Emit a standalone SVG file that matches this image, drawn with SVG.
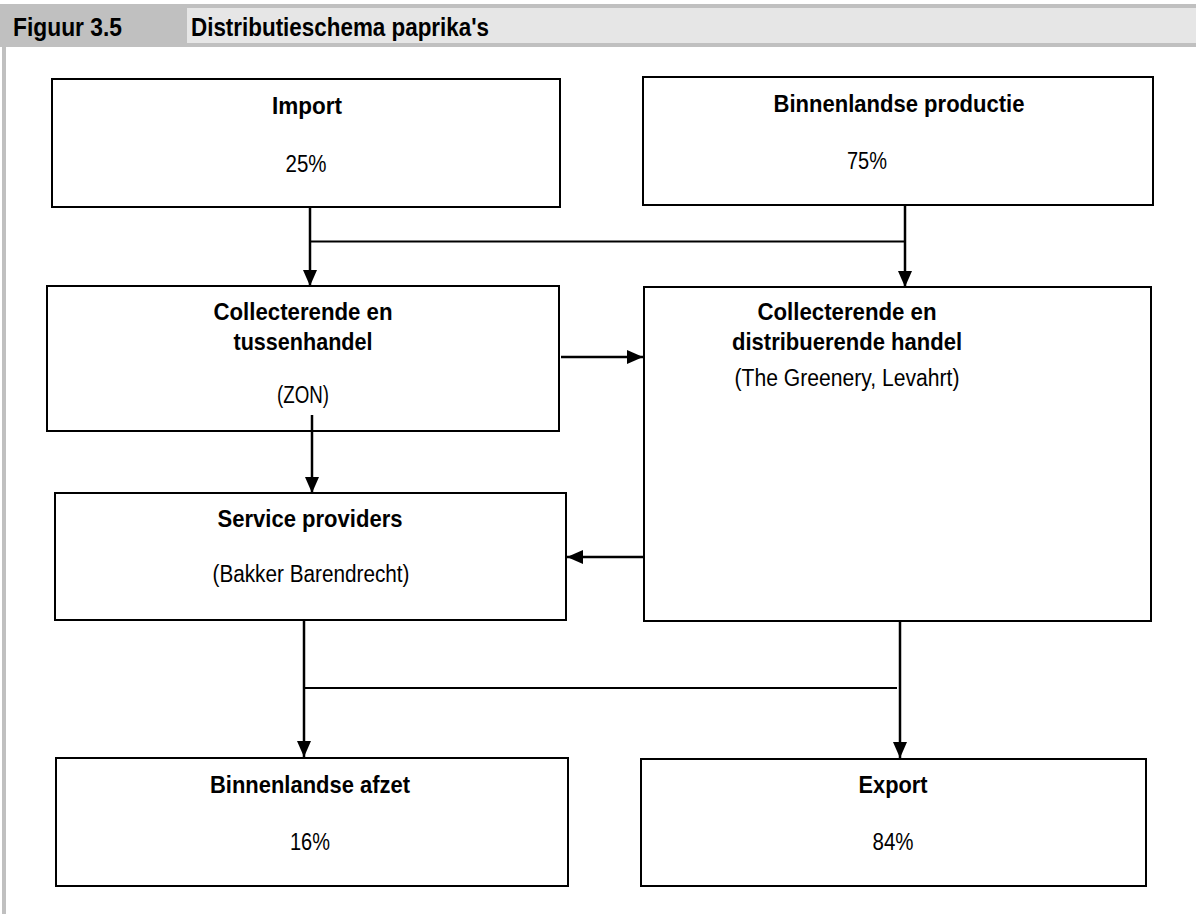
<svg xmlns="http://www.w3.org/2000/svg" width="1196" height="914" viewBox="0 0 1196 914">
<defs>
<marker id="ah" markerUnits="userSpaceOnUse" markerWidth="16" markerHeight="14" refX="16" refY="7" orient="auto">
<path d="M0,0 L16,7 L0,14 z" fill="#000"/>
</marker>
<style>
.box{fill:#fff;stroke:#000;stroke-width:2}
.t{font-family:"Liberation Sans",Arial,sans-serif;font-size:24px;font-weight:bold;fill:#000}
.r{font-family:"Liberation Sans",Arial,sans-serif;font-size:23px;fill:#000}
.h{font-family:"Liberation Sans",Arial,sans-serif;font-size:25px;font-weight:bold;fill:#000}
.ln{stroke:#000;stroke-width:2;fill:none}
.ar{stroke:#000;stroke-width:2.5;fill:none;marker-end:url(#ah)}
</style>
</defs>
<rect width="1196" height="914" fill="#fff"/>
<g id="header">
<rect x="0" y="4" width="1196" height="43" fill="#c0c0c0"/>
<rect x="187" y="8" width="1009" height="35" fill="#e6e6e6"/>
<rect x="2" y="47" width="4" height="867" fill="#c0c0c0"/>
<text class="h" x="13" y="36" textLength="109" lengthAdjust="spacingAndGlyphs">Figuur 3.5</text>
<text class="h" x="191" y="36" textLength="298" lengthAdjust="spacingAndGlyphs">Distributieschema paprika's</text>
</g>
<g id="import">
<rect class="box" x="52" y="79" width="508" height="128"/>
<text class="t" x="307" y="114" text-anchor="middle" textLength="70" lengthAdjust="spacingAndGlyphs">Import</text>
<text class="r" x="306" y="172" text-anchor="middle" textLength="41" lengthAdjust="spacingAndGlyphs">25%</text>
</g>
<g id="binnenlandse-productie">
<rect class="box" x="643" y="77" width="510" height="128"/>
<text class="t" x="899" y="112" text-anchor="middle" textLength="251" lengthAdjust="spacingAndGlyphs">Binnenlandse productie</text>
<text class="r" x="867" y="169" text-anchor="middle" textLength="40" lengthAdjust="spacingAndGlyphs">75%</text>
</g>
<g id="tussenhandel">
<rect class="box" x="47" y="286" width="512" height="145"/>
<text class="t" x="303" y="320" text-anchor="middle" textLength="179" lengthAdjust="spacingAndGlyphs">Collecterende en</text>
<text class="t" x="303" y="350" text-anchor="middle" textLength="139" lengthAdjust="spacingAndGlyphs">tussenhandel</text>
<text class="r" x="303" y="403" text-anchor="middle" textLength="52" lengthAdjust="spacingAndGlyphs">(ZON)</text>
</g>
<g id="distribuerende-handel">
<rect class="box" x="644" y="287" width="507" height="334"/>
<text class="t" x="847" y="320" text-anchor="middle" textLength="179" lengthAdjust="spacingAndGlyphs">Collecterende en</text>
<text class="t" x="847" y="350" text-anchor="middle" textLength="230" lengthAdjust="spacingAndGlyphs">distribuerende handel</text>
<text class="r" x="847" y="386" text-anchor="middle" textLength="225" lengthAdjust="spacingAndGlyphs">(The Greenery, Levahrt)</text>
</g>
<g id="service-providers">
<rect class="box" x="55" y="493" width="511" height="127"/>
<text class="t" x="310" y="527" text-anchor="middle" textLength="185" lengthAdjust="spacingAndGlyphs">Service providers</text>
<text class="r" x="311" y="582" text-anchor="middle" textLength="197" lengthAdjust="spacingAndGlyphs">(Bakker Barendrecht)</text>
</g>
<g id="binnenlandse-afzet">
<rect class="box" x="56" y="758" width="512" height="128"/>
<text class="t" x="310" y="793" text-anchor="middle" textLength="200" lengthAdjust="spacingAndGlyphs">Binnenlandse afzet</text>
<text class="r" x="310" y="850" text-anchor="middle" textLength="40" lengthAdjust="spacingAndGlyphs">16%</text>
</g>
<g id="export">
<rect class="box" x="641" y="759" width="505" height="127"/>
<text class="t" x="893" y="793" text-anchor="middle" textLength="69" lengthAdjust="spacingAndGlyphs">Export</text>
<text class="r" x="893" y="850" text-anchor="middle" textLength="41" lengthAdjust="spacingAndGlyphs">84%</text>
</g>
<g id="connectors">
<line class="ar" x1="310" y1="207" x2="310" y2="286"/>
<line class="ar" x1="905" y1="205" x2="905" y2="287"/>
<line class="ln" x1="310" y1="241.5" x2="905" y2="241.5"/>
<line class="ar" x1="561" y1="357" x2="643" y2="357"/>
<line class="ar" x1="312" y1="415" x2="312" y2="493"/>
<line class="ar" x1="644" y1="557" x2="567" y2="557"/>
<line class="ar" x1="304" y1="620" x2="304" y2="757"/>
<line class="ar" x1="900" y1="621" x2="900" y2="758"/>
<line class="ln" x1="304" y1="688" x2="897" y2="688"/>
</g>
</svg>
